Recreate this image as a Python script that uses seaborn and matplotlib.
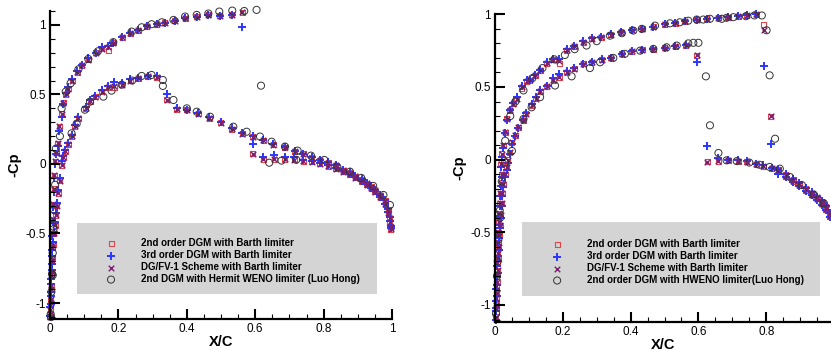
import numpy as np
import pandas as pd
import matplotlib
matplotlib.use("Agg")
import matplotlib.pyplot as plt
from matplotlib.patches import Rectangle
from matplotlib.ticker import MultipleLocator, FuncFormatter
import seaborn as sns

# ---------------- left panel: DG schemes, upper surface ----------------
xu_L = [0.000, 0.002, 0.003, 0.004, 0.005, 0.006, 0.007, 0.008, 0.010, 0.012,
        0.013, 0.015, 0.018, 0.022, 0.027, 0.034, 0.039, 0.046, 0.054, 0.065,
        0.079, 0.093, 0.112, 0.134, 0.151, 0.171, 0.185, 0.211, 0.234, 0.258,
        0.283, 0.312, 0.336, 0.365, 0.395, 0.429, 0.463, 0.497, 0.531, 0.562,
        0.593, 0.624, 0.655, 0.687, 0.714, 0.741, 0.765, 0.789, 0.814, 0.836,
        0.858, 0.877, 0.892, 0.911, 0.926, 0.940, 0.950, 0.965, 0.980, 0.989,
        0.993, 0.996]
cu2_L = [-1.10, -1.00, -0.90, -0.80, -0.70, -0.60, -0.50, -0.40, -0.29, -0.18,
         -0.08, 0.02, 0.08, 0.15, 0.27, 0.36, 0.44, 0.50, 0.54, 0.60,
         0.66, 0.71, 0.75, 0.80, 0.83, 0.815, 0.87, 0.91, 0.94, 0.96,
         0.99, 1.005, 1.017, 1.03, 1.048, 1.06, 1.072, 1.067, 1.072, 1.09,
         0.072, 0.03, 0.035, 0.035, 0.03, 0.02, 0.017, 0.0, -0.015, -0.035,
         -0.055, -0.075, -0.10, -0.125, -0.15, -0.175, -0.20, -0.24, -0.29, -0.35,
         -0.42, -0.47]
cu3_L = [-1.09, -1.01, -0.92, -0.83, -0.72, -0.62, -0.52, -0.42, -0.31, -0.20,
         -0.10, 0.00, 0.07, 0.13, 0.24, 0.34, 0.43, 0.51, 0.55, 0.61,
         0.67, 0.71, 0.76, 0.80, 0.84, 0.85, 0.87, 0.91, 0.94, 0.96,
         0.99, 1.005, 1.017, 1.03, 1.048, 1.06, 1.072, 1.067, 1.072, 0.983,
         0.144, 0.053, 0.065, 0.053, 0.05, 0.03, 0.02, 0.005, -0.01, -0.03,
         -0.05, -0.07, -0.095, -0.12, -0.145, -0.17, -0.195, -0.235, -0.285, -0.345,
         -0.41, -0.46]
cuf_L = [-1.10, -1.00, -0.90, -0.80, -0.70, -0.60, -0.50, -0.40, -0.29, -0.18,
         -0.08, 0.02, 0.08, 0.15, 0.27, 0.36, 0.44, 0.50, 0.54, 0.60,
         0.66, 0.71, 0.75, 0.80, 0.83, 0.84, 0.87, 0.91, 0.94, 0.96,
         0.99, 1.005, 1.017, 1.03, 1.048, 1.06, 1.072, 1.067, 1.072, 1.09,
         0.072, 0.035, 0.035, 0.035, 0.03, 0.02, 0.017, 0.0, -0.015, -0.035,
         -0.055, -0.075, -0.10, -0.125, -0.15, -0.175, -0.20, -0.24, -0.29, -0.35,
         -0.42, -0.47]

# ---------------- left panel: DG schemes, lower surface ----------------
xl_L = [0.001, 0.002, 0.003, 0.005, 0.007, 0.009, 0.011, 0.015, 0.017, 0.020,
        0.024, 0.029, 0.034, 0.039, 0.044, 0.054, 0.063, 0.073, 0.083, 0.104,
        0.117, 0.132, 0.151, 0.171, 0.188, 0.210, 0.234, 0.258, 0.286, 0.312,
        0.341, 0.370, 0.400, 0.434, 0.466, 0.499, 0.531, 0.562, 0.593, 0.624,
        0.653, 0.687, 0.716, 0.741, 0.765, 0.789, 0.814, 0.836, 0.858, 0.877,
        0.892, 0.911, 0.926, 0.940, 0.950, 0.965, 0.980, 0.989, 0.993, 0.996]
cl2_L = [-1.05, -0.97, -0.88, -0.78, -0.68, -0.58, -0.50, -0.44, -0.37, -0.30,
         -0.21, -0.12, -0.01, 0.05, 0.09, 0.14, 0.20, 0.27, 0.33, 0.40,
         0.45, 0.485, 0.52, 0.55, 0.55, 0.57, 0.60, 0.615, 0.63, 0.625,
         0.46, 0.395, 0.39, 0.36, 0.33, 0.295, 0.25, 0.218, 0.197, 0.17,
         0.137, 0.12, 0.09, 0.072, 0.045, 0.025, 0.01, -0.01, -0.045, -0.065,
         -0.09, -0.115, -0.14, -0.165, -0.19, -0.225, -0.265, -0.33, -0.39, -0.45]
cl3_L = [-1.03, -0.95, -0.86, -0.76, -0.66, -0.56, -0.49, -0.42, -0.35, -0.28,
         -0.19, -0.10, 0.02, 0.06, 0.10, 0.15, 0.21, 0.28, 0.34, 0.41,
         0.46, 0.49, 0.53, 0.56, 0.59, 0.58, 0.61, 0.62, 0.63, 0.63,
         0.50, 0.40, 0.39, 0.365, 0.335, 0.30, 0.255, 0.22, 0.20, 0.175,
         0.14, 0.125, 0.095, 0.075, 0.05, 0.03, 0.015, -0.005, -0.04, -0.06,
         -0.085, -0.11, -0.135, -0.16, -0.185, -0.22, -0.26, -0.325, -0.385, -0.445]
clf_L = [-1.05, -0.97, -0.88, -0.78, -0.68, -0.58, -0.50, -0.44, -0.37, -0.30,
         -0.21, -0.12, -0.01, 0.05, 0.09, 0.14, 0.20, 0.27, 0.33, 0.40,
         0.45, 0.485, 0.52, 0.55, 0.56, 0.57, 0.60, 0.615, 0.63, 0.625,
         0.46, 0.395, 0.39, 0.36, 0.33, 0.295, 0.25, 0.218, 0.197, 0.17,
         0.137, 0.12, 0.09, 0.072, 0.045, 0.025, 0.01, -0.01, -0.045, -0.065,
         -0.09, -0.115, -0.14, -0.165, -0.19, -0.225, -0.265, -0.33, -0.39, -0.45]

# ---------------- left panel: Hermit WENO (Luo Hong) ----------------
xh_L = [0.002, 0.004, 0.006, 0.008, 0.010, 0.012, 0.015, 0.017, 0.029, 0.034,
        0.046, 0.060, 0.083, 0.112, 0.140, 0.185, 0.239, 0.268, 0.297, 0.327,
        0.361, 0.395, 0.429, 0.463, 0.495, 0.533, 0.568, 0.604, 0.617, 0.641,
        0.677, 0.720, 0.802, 0.840, 0.877, 0.910, 0.945, 0.975, 0.994,
        0.003, 0.008, 0.010, 0.063, 0.078, 0.102, 0.117, 0.156, 0.180, 0.210,
        0.240, 0.268, 0.297, 0.330, 0.330, 0.361, 0.400, 0.429, 0.468, 0.536,
        0.575, 0.614, 0.648, 0.687, 0.724, 0.763]
ch_L = [-1.08, -0.92, -0.79, -0.64, -0.47, -0.33, -0.15, 0.11, 0.20, 0.40,
        0.52, 0.58, 0.68, 0.755, 0.81, 0.876, 0.952, 0.983, 1.005, 1.019,
        1.036, 1.06, 1.072, 1.082, 1.096, 1.103, 1.10, 1.108, 0.563, 0.009,
        0.024, 0.03, 0.029, -0.02, -0.055, -0.10, -0.158, -0.223, -0.295,
        -1.10, -0.80, -0.45, 0.22, 0.29, 0.39, 0.448, 0.484, 0.527, 0.57,
        0.60, 0.633, 0.64, 0.604, 0.561, 0.46, 0.40, 0.376, 0.34, 0.268,
        0.232, 0.197, 0.16, 0.125, 0.096, 0.06]

# ---------------- right panel: DG schemes, upper surface ----------------
xu_R = [0.002, 0.003, 0.004, 0.004, 0.005, 0.006, 0.008, 0.009, 0.010, 0.011,
        0.012, 0.014, 0.016, 0.018, 0.020, 0.017, 0.020, 0.025, 0.030, 0.034,
        0.044, 0.054, 0.064, 0.079, 0.093, 0.103, 0.118, 0.133, 0.152, 0.172,
        0.189, 0.212, 0.234, 0.260, 0.285, 0.313, 0.342, 0.372, 0.403, 0.435,
        0.467, 0.500, 0.531, 0.560, 0.595, 0.624, 0.659, 0.688, 0.718, 0.742,
        0.770, 0.793, 0.813, 0.836, 0.858, 0.880, 0.898, 0.917, 0.934, 0.951,
        0.964, 0.976, 0.988]
cu2_R = [-1.08, -1.02, -0.95, -0.87, -0.79, -0.71, -0.64, -0.57, -0.50, -0.43,
         -0.37, -0.30, -0.23, -0.16, -0.10, -0.03, 0.04, 0.10, 0.19, 0.28,
         0.34, 0.385, 0.42, 0.49, 0.54, 0.545, 0.58, 0.614, 0.664, 0.687,
         0.66, 0.751, 0.779, 0.808, 0.831, 0.843, 0.861, 0.877, 0.894, 0.90,
         0.916, 0.93, 0.939, 0.953, 0.964, 0.969, 0.976, 0.98, 0.985, 0.992,
         0.999, 0.931, 0.30, -0.07, -0.115, -0.15, -0.175, -0.21, -0.24, -0.27,
         -0.305, -0.34, -0.39]
cu3_R = [-1.10, -1.04, -0.97, -0.89, -0.81, -0.73, -0.66, -0.59, -0.52, -0.45,
         -0.39, -0.32, -0.25, -0.18, -0.12, -0.05, 0.02, 0.08, 0.18, 0.27,
         0.34, 0.39, 0.43, 0.51, 0.545, 0.55, 0.585, 0.62, 0.675, 0.69,
         0.69, 0.76, 0.785, 0.815, 0.835, 0.845, 0.862, 0.877, 0.894, 0.90,
         0.916, 0.93, 0.939, 0.953, 0.964, 0.969, 0.976, 0.98, 0.985, 0.992,
         0.999, 0.643, 0.105, -0.10, -0.12, -0.155, -0.18, -0.215, -0.245, -0.275,
         -0.31, -0.345, -0.395]
cuf_R = [-1.08, -1.02, -0.95, -0.87, -0.79, -0.71, -0.64, -0.57, -0.50, -0.43,
         -0.37, -0.30, -0.23, -0.16, -0.10, -0.03, 0.04, 0.10, 0.19, 0.28,
         0.34, 0.385, 0.42, 0.50, 0.54, 0.545, 0.58, 0.614, 0.664, 0.687,
         0.68, 0.751, 0.779, 0.808, 0.831, 0.843, 0.861, 0.877, 0.894, 0.90,
         0.916, 0.93, 0.939, 0.953, 0.964, 0.969, 0.976, 0.98, 0.985, 0.992,
         0.999, 0.89, 0.30, -0.07, -0.115, -0.15, -0.175, -0.21, -0.24, -0.27,
         -0.305, -0.34, -0.39]

# ---------------- right panel: DG schemes, lower surface ----------------
xl_R = [0.004, 0.005, 0.006, 0.008, 0.009, 0.011, 0.013, 0.015, 0.017, 0.020,
        0.022, 0.025, 0.030, 0.034, 0.038, 0.044, 0.050, 0.059, 0.069, 0.083,
        0.090, 0.108, 0.120, 0.133, 0.152, 0.172, 0.189, 0.212, 0.234, 0.260,
        0.285, 0.315, 0.342, 0.374, 0.403, 0.435, 0.467, 0.501, 0.531, 0.563,
        0.595, 0.626, 0.659, 0.688, 0.718, 0.742, 0.770, 0.791, 0.816, 0.836,
        0.858, 0.880, 0.898, 0.917, 0.934, 0.951, 0.964, 0.976, 0.988]
cl2_R = [-1.00, -0.92, -0.84, -0.76, -0.68, -0.60, -0.52, -0.45, -0.38, -0.30,
         -0.23, -0.17, -0.10, -0.05, 0.00, 0.05, 0.12, 0.167, 0.224, 0.27,
         0.317, 0.374, 0.42, 0.471, 0.504, 0.545, 0.563, 0.602, 0.625, 0.659,
         0.67, 0.689, 0.70, 0.728, 0.746, 0.755, 0.758, 0.77, 0.78, 0.786,
         0.717, -0.016, -0.01, -0.005, -0.01, -0.016, -0.032, -0.044, -0.058, -0.074,
         -0.105, -0.14, -0.165, -0.20, -0.23, -0.26, -0.29, -0.325, -0.37]
cl3_R = [-1.02, -0.94, -0.86, -0.78, -0.70, -0.62, -0.54, -0.47, -0.40, -0.32,
         -0.25, -0.19, -0.12, -0.07, -0.02, 0.04, 0.11, 0.16, 0.22, 0.275,
         0.32, 0.38, 0.43, 0.48, 0.51, 0.56, 0.59, 0.61, 0.63, 0.66,
         0.672, 0.69, 0.70, 0.728, 0.746, 0.755, 0.758, 0.77, 0.78, 0.786,
         0.672, 0.094, 0.01, 0.0, -0.005, -0.012, -0.03, -0.04, -0.055, -0.072,
         -0.10, -0.135, -0.16, -0.195, -0.225, -0.255, -0.285, -0.32, -0.365]
clf_R = [-1.00, -0.92, -0.84, -0.76, -0.68, -0.60, -0.52, -0.45, -0.38, -0.30,
         -0.23, -0.17, -0.10, -0.05, 0.00, 0.05, 0.12, 0.167, 0.224, 0.27,
         0.317, 0.374, 0.42, 0.471, 0.504, 0.545, 0.57, 0.602, 0.625, 0.659,
         0.67, 0.689, 0.70, 0.728, 0.746, 0.755, 0.758, 0.77, 0.78, 0.786,
         0.717, -0.016, -0.01, -0.005, -0.01, -0.016, -0.032, -0.044, -0.058, -0.074,
         -0.105, -0.14, -0.165, -0.20, -0.23, -0.26, -0.29, -0.325, -0.37]

# ---------------- right panel: HWENO (Luo Hong) ----------------
xh_R = [0.003, 0.006, 0.010, 0.014, 0.020, 0.030, 0.045, 0.060, 0.084, 0.110,
        0.140, 0.175, 0.206, 0.235, 0.270, 0.300, 0.339, 0.374, 0.408, 0.433,
        0.472, 0.516, 0.545, 0.570, 0.595, 0.614, 0.634, 0.669, 0.683, 0.703,
        0.740, 0.765, 0.787, 0.801, 0.810, 0.826, 0.840, 0.870, 0.905, 0.940,
        0.970,
        0.008, 0.015, 0.030, 0.050, 0.084, 0.108, 0.133, 0.177, 0.226, 0.280,
        0.310, 0.349, 0.383, 0.428, 0.467, 0.506, 0.536, 0.570, 0.585, 0.600,
        0.622, 0.634, 0.659, 0.683, 0.713, 0.750, 0.780, 0.810]
ch_R = [-1.06, -0.80, -0.55, -0.35, -0.15, 0.13, 0.30, 0.40, 0.476, 0.56,
        0.63, 0.69, 0.72, 0.76, 0.785, 0.815, 0.853, 0.87, 0.888, 0.90,
        0.922, 0.938, 0.945, 0.956, 0.964, 0.964, 0.969, 0.969, 0.976, 0.98,
        0.987, 0.992, 0.992, 0.89, 0.58, 0.144, -0.062, -0.12, -0.175, -0.24,
        -0.30,
        -0.70, -0.40, -0.02, 0.06, 0.28, 0.36, 0.43, 0.51, 0.573, 0.63,
        0.67, 0.70, 0.728, 0.75, 0.762, 0.773, 0.785, 0.80, 0.804, 0.804,
        0.573, 0.236, 0.046, -0.005, -0.01, -0.02, -0.035, -0.05]

labels_L = ["2nd order DGM with Barth limiter",
            "3rd order DGM with Barth limiter",
            "DG/FV-1 Scheme with Barth limiter",
            "2nd DGM with Hermit WENO limiter (Luo Hong)"]
labels_R = ["2nd order DGM with Barth limiter",
            "3rd order DGM with Barth limiter",
            "DG/FV-1 Scheme with Barth limiter",
            "2nd order DGM with HWENO limiter(Luo Hong)"]

plt.rcParams['font.family'] = ['Liberation Sans', 'DejaVu Sans']

RED = '#e0464e'
BLUE = '#2a36ff'
PURPLE = '#7a2070'
GRAY = '#333333'


def draw_panel(ax, series):
    styles = [dict(marker='s', s=13, facecolor='none', edgecolor=RED, linewidth=0.8),
              dict(marker='+', s=34, color=BLUE, linewidth=1.4),
              dict(marker='x', s=16, color=PURPLE, linewidth=1.0),
              dict(marker='o', s=26, facecolor='none', edgecolor=GRAY, linewidth=0.7)]
    handles = []
    for (xs, ys), st in zip(series, styles):
        df = pd.DataFrame({'x': xs, 'cp': ys})
        sns.scatterplot(data=df, x='x', y='cp', ax=ax, clip_on=False, legend=False, **st)
        handles.append(ax.collections[-1])
    return handles


def style_axes(ax, xmax, ymin, ymax, xticks):
    ax.set_xlim(0, xmax)
    ax.set_ylim(ymin, ymax)
    for side in ['top', 'right']:
        ax.spines[side].set_visible(False)
    for side in ['left', 'bottom']:
        ax.spines[side].set_linewidth(1.6)
    ax.set_xticks(xticks)
    ax.set_yticks([-1, -0.5, 0, 0.5, 1])
    ax.xaxis.set_minor_locator(MultipleLocator(0.05))
    ax.yaxis.set_minor_locator(MultipleLocator(0.1))
    fmt = FuncFormatter(lambda v, p: '%g' % round(v, 2))
    ax.xaxis.set_major_formatter(fmt)
    ax.yaxis.set_major_formatter(fmt)
    ax.tick_params(which='major', direction='in', length=7, width=1.5,
                   labelsize=8.5, pad=3)
    ax.tick_params(which='minor', direction='in', length=3.5, width=0.8)
    ax.set_xlabel('X/C', fontsize=10.5, fontweight='bold', labelpad=0)
    ax.set_ylabel('-Cp', fontsize=10.5, fontweight='bold', labelpad=3)
    ax.patch.set_visible(False)


fig = plt.figure(figsize=(8.31, 3.51), dpi=100)
axL = fig.add_axes([50 / 831, 1 - 319 / 351, 342 / 831, 308 / 351])
axR = fig.add_axes([495 / 831, 1 - 322 / 351, 336 / 831, 307.7 / 351])

series_L = [(xu_L + xl_L, cu2_L + cl2_L),
            (xu_L + xl_L, cu3_L + cl3_L),
            (xu_L + xl_L, cuf_L + clf_L),
            (xh_L, ch_L)]
series_R = [(xu_R + xl_R, cu2_R + cl2_R),
            (xu_R + xl_R, cu3_R + cl3_R),
            (xu_R + xl_R, cuf_R + clf_R),
            (xh_R, ch_R)]

for ax, series, labels, xmax, ymin, ymax, xt, box, anchor in [
        (axL, series_L, labels_L, 1.0, -1.115, 1.10, [0, 0.2, 0.4, 0.6, 0.8, 1.0],
         (0.079, 0.081, 0.877, 0.231), (0.150, 0.262)),
        (axR, series_R, labels_R, 0.991, -1.117, 1.0, [0, 0.2, 0.4, 0.6, 0.8],
         (0.080, 0.0845, 0.887, 0.2405), (0.156, 0.269))]:
    style_axes(ax, xmax, ymin, ymax, xt)
    ax.add_patch(Rectangle(box[:2], box[2], box[3], transform=ax.transAxes,
                           facecolor='#d4d4d4', edgecolor='none', zorder=0.5))
    handles = draw_panel(ax, series)
    ax.legend(handles, labels, loc='upper left', bbox_to_anchor=anchor,
              frameon=False, borderpad=0, borderaxespad=0, handlelength=2.0,
              handletextpad=2.1, labelspacing=0.2,
              prop={'size': 7.0, 'weight': 'bold'})

fig.savefig('out.png', dpi=100)
